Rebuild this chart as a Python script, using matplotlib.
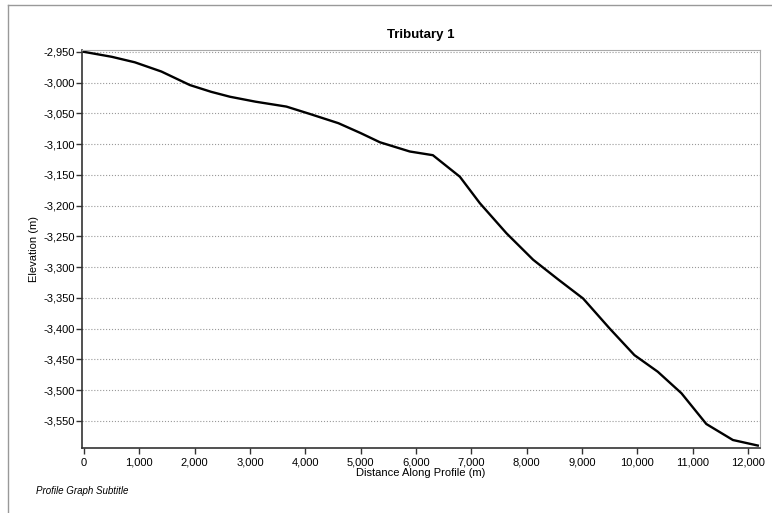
import matplotlib
matplotlib.use("Agg")
import matplotlib.pyplot as plt
from matplotlib.lines import Line2D
from matplotlib.ticker import FuncFormatter

# profile data
distance = [0, 500, 920, 1400, 1915, 2300, 2640, 3100, 3660, 4085, 4600, 5000,
            5350, 5890, 6307, 6795, 7156, 7638, 8120, 8572, 9023, 9505, 9950,
            10372, 10800, 11250, 11730, 12180]
elevation = [-2950, -2958, -2967, -2982, -3004, -3015, -3023, -3031, -3039, -3051,
             -3066, -3082, -3097, -3112, -3118, -3153, -3196, -3245, -3288, -3320,
             -3351, -3400, -3443, -3470, -3505, -3555, -3581, -3590]
x_ticks = list(range(0, 12001, 1000))
y_ticks = list(range(-3550, -2949, 50))

plt.rcParams['font.family'] = ['Liberation Sans', 'DejaVu Sans']

fig = plt.figure(figsize=(7.72, 5.13), dpi=100)
ax = fig.add_axes([82 / 772, 65 / 513, 678 / 772, 398 / 513])

ax.plot(distance, elevation, color='black', linewidth=1.7)

ax.set_xlim(-35, 12220)
ax.set_ylim(-3594, -2947)
ax.set_xticks(x_ticks)
ax.set_yticks(y_ticks)
fmt = FuncFormatter(lambda v, p: f"{int(v):,}")
ax.xaxis.set_major_formatter(fmt)
ax.yaxis.set_major_formatter(fmt)
ax.tick_params(labelsize=8, length=4, width=1, color='#333333', pad=1)
ax.tick_params(axis='x', pad=3)

ax.grid(axis='y', linestyle=':', color='#999999', linewidth=0.8)
ax.set_axisbelow(True)

ax.spines['left'].set_color('#333333')
ax.spines['bottom'].set_color('#333333')
ax.spines['left'].set_linewidth(1.2)
ax.spines['bottom'].set_linewidth(1.2)
ax.spines['top'].set_color('#aaaaaa')
ax.spines['right'].set_color('#aaaaaa')

ax.set_title('Tributary 1', fontsize=9.5, fontweight='bold', pad=9)
ax.set_xlabel('Distance Along Profile (m)', fontsize=8, labelpad=0)
ax.set_ylabel('Elevation (m)', fontsize=8, labelpad=3)

fig.text(36 / 772, 1 - 491 / 513, 'Profile Graph Subtitle', fontsize=7,
         style='italic', ha='left', va='center')

# outer frame (top and left edges visible)
fig.add_artist(Line2D([8 / 772, 1], [1 - 5 / 513, 1 - 5 / 513],
                      transform=fig.transFigure, color='#999999', linewidth=1))
fig.add_artist(Line2D([8 / 772, 8 / 772], [0, 1 - 5 / 513],
                      transform=fig.transFigure, color='#999999', linewidth=1))

fig.savefig('out.png', dpi=100)
